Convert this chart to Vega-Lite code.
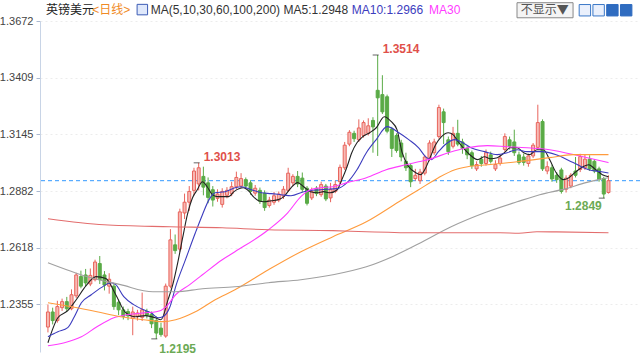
{
"$schema":"https://vega.github.io/schema/vega-lite/v6.json",
"width":600,"height":331,
"autosize":{"type":"none"},
"padding":{"left":40,"top":21,"right":0,"bottom":8},
"background":"white",
"config":{"view":{"stroke":null},"font":"Liberation Sans","text":{"font":"Liberation Sans, Noto Sans CJK SC"},
 "axisY":{"title":null,"format":".4f","labelFont":"Liberation Sans","labelFontSize":11,"labelColor":"#444","labelPadding":3,"tickSize":4,"tickColor":"#a9b8d0","domainColor":"#c8d4e6","grid":true,"gridColor":"#ececec","gridDash":[2,3]}},
"datasets":{
"one":[{}],
"k":[
{"i":0,"o":1.2250,"h":1.2355,"l":1.2225,"c":1.2320},
{"i":1,"o":1.2320,"h":1.2340,"l":1.2262,"c":1.2280},
{"i":2,"o":1.2280,"h":1.2372,"l":1.2270,"c":1.2345},
{"i":3,"o":1.2340,"h":1.2382,"l":1.2325,"c":1.2368},
{"i":4,"o":1.2368,"h":1.2390,"l":1.2320,"c":1.2335},
{"i":5,"o":1.2335,"h":1.2425,"l":1.2328,"c":1.2400},
{"i":6,"o":1.2395,"h":1.2502,"l":1.2385,"c":1.2492},
{"i":7,"o":1.2485,"h":1.2512,"l":1.2430,"c":1.2440},
{"i":8,"o":1.2492,"h":1.2520,"l":1.2440,"c":1.2455},
{"i":9,"o":1.2450,"h":1.2522,"l":1.2440,"c":1.2490},
{"i":10,"o":1.2470,"h":1.2563,"l":1.2462,"c":1.2552},
{"i":11,"o":1.2545,"h":1.2580,"l":1.2450,"c":1.2470},
{"i":12,"o":1.2492,"h":1.2510,"l":1.2420,"c":1.2445},
{"i":13,"o":1.2440,"h":1.2500,"l":1.2405,"c":1.2472},
{"i":14,"o":1.2440,"h":1.2452,"l":1.2330,"c":1.2345},
{"i":15,"o":1.2365,"h":1.2378,"l":1.2305,"c":1.2330},
{"i":16,"o":1.2330,"h":1.2345,"l":1.2285,"c":1.2300},
{"i":17,"o":1.2322,"h":1.2335,"l":1.2282,"c":1.2302},
{"i":18,"o":1.2290,"h":1.2345,"l":1.2212,"c":1.2320},
{"i":19,"o":1.2300,"h":1.2330,"l":1.2280,"c":1.2315},
{"i":20,"o":1.2295,"h":1.2410,"l":1.2278,"c":1.2330},
{"i":21,"o":1.2322,"h":1.2335,"l":1.2290,"c":1.2305},
{"i":22,"o":1.2310,"h":1.2322,"l":1.2245,"c":1.2265},
{"i":23,"o":1.2280,"h":1.2300,"l":1.2195,"c":1.2222},
{"i":24,"o":1.2245,"h":1.2270,"l":1.2205,"c":1.2215},
{"i":25,"o":1.2208,"h":1.2452,"l":1.2200,"c":1.2440},
{"i":26,"o":1.2440,"h":1.2705,"l":1.2430,"c":1.2655},
{"i":27,"o":1.2632,"h":1.2680,"l":1.2590,"c":1.2605},
{"i":28,"o":1.2612,"h":1.2800,"l":1.2600,"c":1.2785},
{"i":29,"o":1.2780,"h":1.2870,"l":1.2752,"c":1.2830},
{"i":30,"o":1.2830,"h":1.2905,"l":1.2790,"c":1.2880},
{"i":31,"o":1.2885,"h":1.2990,"l":1.2862,"c":1.2975},
{"i":32,"o":1.2915,"h":1.3013,"l":1.2885,"c":1.2990},
{"i":33,"o":1.2950,"h":1.2995,"l":1.2862,"c":1.2900},
{"i":34,"o":1.2920,"h":1.2945,"l":1.2825,"c":1.2852},
{"i":35,"o":1.2888,"h":1.2905,"l":1.2810,"c":1.2840},
{"i":36,"o":1.2848,"h":1.2890,"l":1.2832,"c":1.2868},
{"i":37,"o":1.2820,"h":1.2895,"l":1.2805,"c":1.2880},
{"i":38,"o":1.2862,"h":1.2900,"l":1.2848,"c":1.2885},
{"i":39,"o":1.2870,"h":1.2925,"l":1.2858,"c":1.2902},
{"i":40,"o":1.2902,"h":1.2972,"l":1.2890,"c":1.2945},
{"i":41,"o":1.2905,"h":1.2965,"l":1.2895,"c":1.2940},
{"i":42,"o":1.2935,"h":1.2945,"l":1.2890,"c":1.2905},
{"i":43,"o":1.2920,"h":1.2932,"l":1.2865,"c":1.2880},
{"i":44,"o":1.2872,"h":1.2910,"l":1.2860,"c":1.2895},
{"i":45,"o":1.2885,"h":1.2898,"l":1.2822,"c":1.2835},
{"i":46,"o":1.2872,"h":1.2885,"l":1.2790,"c":1.2805},
{"i":47,"o":1.2815,"h":1.2855,"l":1.2805,"c":1.2840},
{"i":48,"o":1.2830,"h":1.2878,"l":1.2818,"c":1.2860},
{"i":49,"o":1.2840,"h":1.2880,"l":1.2830,"c":1.2868},
{"i":50,"o":1.2858,"h":1.2905,"l":1.2845,"c":1.2890},
{"i":51,"o":1.2885,"h":1.2990,"l":1.2878,"c":1.2965},
{"i":52,"o":1.2920,"h":1.2960,"l":1.2905,"c":1.2950},
{"i":53,"o":1.2950,"h":1.2975,"l":1.2900,"c":1.2915},
{"i":54,"o":1.2942,"h":1.2968,"l":1.2878,"c":1.2890},
{"i":55,"o":1.2895,"h":1.2905,"l":1.2815,"c":1.2825},
{"i":56,"o":1.2850,"h":1.2898,"l":1.2840,"c":1.2880},
{"i":57,"o":1.2895,"h":1.2905,"l":1.2858,"c":1.2870},
{"i":58,"o":1.2865,"h":1.2925,"l":1.2855,"c":1.2912},
{"i":59,"o":1.2905,"h":1.2915,"l":1.2835,"c":1.2845},
{"i":60,"o":1.2850,"h":1.2920,"l":1.2830,"c":1.2890},
{"i":61,"o":1.2880,"h":1.2930,"l":1.2872,"c":1.2912},
{"i":62,"o":1.2925,"h":1.3005,"l":1.2915,"c":1.2992},
{"i":63,"o":1.2990,"h":1.3110,"l":1.2980,"c":1.3095},
{"i":64,"o":1.3100,"h":1.3165,"l":1.3090,"c":1.3155},
{"i":65,"o":1.3150,"h":1.3162,"l":1.3110,"c":1.3125},
{"i":66,"o":1.3120,"h":1.3215,"l":1.3110,"c":1.3175},
{"i":67,"o":1.3140,"h":1.3210,"l":1.3130,"c":1.3200},
{"i":68,"o":1.3150,"h":1.3220,"l":1.3140,"c":1.3185},
{"i":69,"o":1.3210,"h":1.3225,"l":1.3060,"c":1.3180},
{"i":70,"o":1.3350,"h":1.3514,"l":1.3045,"c":1.3315},
{"i":71,"o":1.3330,"h":1.3420,"l":1.3240,"c":1.3250},
{"i":72,"o":1.3320,"h":1.3330,"l":1.3150,"c":1.3160},
{"i":73,"o":1.3170,"h":1.3180,"l":1.3040,"c":1.3080},
{"i":74,"o":1.3140,"h":1.3150,"l":1.3060,"c":1.3070},
{"i":75,"o":1.3105,"h":1.3120,"l":1.3020,"c":1.3040},
{"i":76,"o":1.3020,"h":1.3060,"l":1.2975,"c":1.2990},
{"i":77,"o":1.3000,"h":1.3010,"l":1.2900,"c":1.2925},
{"i":78,"o":1.2940,"h":1.2985,"l":1.2930,"c":1.2955},
{"i":79,"o":1.2930,"h":1.2985,"l":1.2915,"c":1.2970},
{"i":80,"o":1.2965,"h":1.3050,"l":1.2955,"c":1.3040},
{"i":81,"o":1.3030,"h":1.3118,"l":1.3020,"c":1.3105},
{"i":82,"o":1.3060,"h":1.3125,"l":1.3050,"c":1.3110},
{"i":83,"o":1.3135,"h":1.3283,"l":1.3125,"c":1.3270},
{"i":84,"o":1.3250,"h":1.3265,"l":1.3100,"c":1.3200},
{"i":85,"o":1.3120,"h":1.3135,"l":1.3050,"c":1.3065},
{"i":86,"o":1.3090,"h":1.3180,"l":1.3080,"c":1.3150},
{"i":87,"o":1.3150,"h":1.3213,"l":1.3090,"c":1.3100},
{"i":88,"o":1.3110,"h":1.3125,"l":1.3055,"c":1.3080},
{"i":89,"o":1.3080,"h":1.3090,"l":1.3030,"c":1.3050},
{"i":90,"o":1.3060,"h":1.3070,"l":1.2985,"c":1.3000},
{"i":91,"o":1.2985,"h":1.3020,"l":1.2975,"c":1.3005},
{"i":92,"o":1.3030,"h":1.3045,"l":1.2995,"c":1.3010},
{"i":93,"o":1.3010,"h":1.3075,"l":1.3000,"c":1.3060},
{"i":94,"o":1.3050,"h":1.3065,"l":1.3010,"c":1.3020},
{"i":95,"o":1.2985,"h":1.3025,"l":1.2975,"c":1.3005},
{"i":96,"o":1.3010,"h":1.3050,"l":1.3000,"c":1.3035},
{"i":97,"o":1.3075,"h":1.3150,"l":1.3065,"c":1.3135},
{"i":98,"o":1.3120,"h":1.3135,"l":1.3075,"c":1.3090},
{"i":99,"o":1.3110,"h":1.3167,"l":1.3045,"c":1.3060},
{"i":100,"o":1.3050,"h":1.3065,"l":1.3005,"c":1.3015},
{"i":101,"o":1.3040,"h":1.3055,"l":1.3000,"c":1.3015},
{"i":102,"o":1.3010,"h":1.3055,"l":1.2995,"c":1.3045},
{"i":103,"o":1.3045,"h":1.3105,"l":1.3035,"c":1.3095},
{"i":104,"o":1.3085,"h":1.3283,"l":1.3075,"c":1.3200},
{"i":105,"o":1.3205,"h":1.3215,"l":1.2975,"c":1.2985},
{"i":106,"o":1.2975,"h":1.3020,"l":1.2960,"c":1.2995},
{"i":107,"o":1.2990,"h":1.3005,"l":1.2925,"c":1.2938},
{"i":108,"o":1.2955,"h":1.2970,"l":1.2920,"c":1.2935},
{"i":109,"o":1.2980,"h":1.2990,"l":1.2870,"c":1.2880},
{"i":110,"o":1.2890,"h":1.2955,"l":1.2875,"c":1.2942},
{"i":111,"o":1.2905,"h":1.2965,"l":1.2895,"c":1.2955},
{"i":112,"o":1.2975,"h":1.3040,"l":1.2945,"c":1.2955},
{"i":113,"o":1.2982,"h":1.3055,"l":1.2970,"c":1.3042},
{"i":114,"o":1.2990,"h":1.3050,"l":1.2980,"c":1.3030},
{"i":115,"o":1.3030,"h":1.3048,"l":1.2975,"c":1.2985},
{"i":116,"o":1.3020,"h":1.3030,"l":1.2965,"c":1.2975},
{"i":117,"o":1.2985,"h":1.2995,"l":1.2925,"c":1.2935},
{"i":118,"o":1.2940,"h":1.2948,"l":1.2849,"c":1.2868},
{"i":119,"o":1.2875,"h":1.2955,"l":1.2870,"c":1.2930}
],
"ma":[
{"ma":"MA5","i":0,"v":1.2177},{"ma":"MA5","i":2.1,"v":1.2293},{"ma":"MA5","i":4.2,"v":1.2326},{"ma":"MA5","i":6,"v":1.2377},{"ma":"MA5","i":8.1,"v":1.2442},{"ma":"MA5","i":10.2,"v":1.2484},{"ma":"MA5","i":12.3,"v":1.2475},{"ma":"MA5","i":14.4,"v":1.2400},{"ma":"MA5","i":16.5,"v":1.2317},{"ma":"MA5","i":18.6,"v":1.2298},{"ma":"MA5","i":20.7,"v":1.2303},{"ma":"MA5","i":22.8,"v":1.2293},{"ma":"MA5","i":24,"v":1.2284},{"ma":"MA5","i":25.5,"v":1.2377},{"ma":"MA5","i":26.5,"v":1.2447},{"ma":"MA5","i":27.6,"v":1.2554},{"ma":"MA5","i":28.6,"v":1.2665},{"ma":"MA5","i":29.6,"v":1.2772},{"ma":"MA5","i":30.7,"v":1.2851},{"ma":"MA5","i":31.7,"v":1.2888},{"ma":"MA5","i":32.8,"v":1.2925},{"ma":"MA5","i":33.8,"v":1.2902},{"ma":"MA5","i":34.9,"v":1.2865},{"ma":"MA5","i":35.9,"v":1.2856},{"ma":"MA5","i":38.4,"v":1.2856},{"ma":"MA5","i":39.5,"v":1.2879},{"ma":"MA5","i":41.5,"v":1.2897},{"ma":"MA5","i":42.6,"v":1.2883},{"ma":"MA5","i":43.6,"v":1.2856},{"ma":"MA5","i":44.7,"v":1.2837},{"ma":"MA5","i":45.9,"v":1.2832},{"ma":"MA5","i":47.4,"v":1.2837},{"ma":"MA5","i":48.9,"v":1.2842},{"ma":"MA5","i":50.1,"v":1.2856},{"ma":"MA5","i":51.6,"v":1.2897},{"ma":"MA5","i":53,"v":1.2921},{"ma":"MA5","i":54.3,"v":1.2902},{"ma":"MA5","i":55.7,"v":1.2879},{"ma":"MA5","i":57.2,"v":1.2874},{"ma":"MA5","i":58.5,"v":1.2879},{"ma":"MA5","i":59.9,"v":1.2874},{"ma":"MA5","i":61.4,"v":1.2888},{"ma":"MA5","i":62.4,"v":1.2935},{"ma":"MA5","i":63.5,"v":1.2995},{"ma":"MA5","i":64.5,"v":1.3060},{"ma":"MA5","i":65.6,"v":1.3106},{"ma":"MA5","i":66.8,"v":1.3134},{"ma":"MA5","i":68.3,"v":1.3153},{"ma":"MA5","i":69.7,"v":1.3176},{"ma":"MA5","i":71.4,"v":1.3227},{"ma":"MA5","i":72.9,"v":1.3204},{"ma":"MA5","i":74.1,"v":1.3167},{"ma":"MA5","i":75.2,"v":1.3060},{"ma":"MA5","i":76.6,"v":1.2995},{"ma":"MA5","i":78.1,"v":1.2967},{"ma":"MA5","i":79.1,"v":1.2958},{"ma":"MA5","i":80.2,"v":1.2990},{"ma":"MA5","i":81.2,"v":1.3041},{"ma":"MA5","i":82.3,"v":1.3097},{"ma":"MA5","i":83.5,"v":1.3134},{"ma":"MA5","i":85,"v":1.3153},{"ma":"MA5","i":86,"v":1.3144},{"ma":"MA5","i":87.1,"v":1.3111},{"ma":"MA5","i":88.5,"v":1.3074},{"ma":"MA5","i":89.8,"v":1.3046},{"ma":"MA5","i":91.2,"v":1.3028},{"ma":"MA5","i":92.7,"v":1.3041},{"ma":"MA5","i":93.9,"v":1.3032},{"ma":"MA5","i":95.4,"v":1.3037},{"ma":"MA5","i":96.9,"v":1.3060},{"ma":"MA5","i":98.1,"v":1.3083},{"ma":"MA5","i":99.6,"v":1.3083},{"ma":"MA5","i":101,"v":1.3060},{"ma":"MA5","i":102.3,"v":1.3051},{"ma":"MA5","i":103.8,"v":1.3074},{"ma":"MA5","i":105.2,"v":1.3074},{"ma":"MA5","i":106.5,"v":1.3028},{"ma":"MA5","i":107.9,"v":1.2967},{"ma":"MA5","i":109.4,"v":1.2935},{"ma":"MA5","i":110.6,"v":1.2944},{"ma":"MA5","i":112.1,"v":1.2972},{"ma":"MA5","i":113.6,"v":1.2995},{"ma":"MA5","i":114.8,"v":1.3004},{"ma":"MA5","i":116.3,"v":1.2981},{"ma":"MA5","i":117.7,"v":1.2958},{"ma":"MA5","i":119,"v":1.2948},
{"ma":"MA10","i":0,"v":1.2205},{"ma":"MA10","i":2.1,"v":1.2228},{"ma":"MA10","i":4.2,"v":1.2247},{"ma":"MA10","i":5.6,"v":1.2298},{"ma":"MA10","i":7.1,"v":1.2363},{"ma":"MA10","i":9.2,"v":1.2400},{"ma":"MA10","i":11.3,"v":1.2433},{"ma":"MA10","i":13.4,"v":1.2456},{"ma":"MA10","i":14.4,"v":1.2447},{"ma":"MA10","i":16.1,"v":1.2391},{"ma":"MA10","i":18.2,"v":1.2354},{"ma":"MA10","i":20.3,"v":1.2330},{"ma":"MA10","i":21.9,"v":1.2316},{"ma":"MA10","i":23.4,"v":1.2293},{"ma":"MA10","i":24.4,"v":1.2298},{"ma":"MA10","i":25.9,"v":1.2344},{"ma":"MA10","i":27.1,"v":1.2437},{"ma":"MA10","i":29.2,"v":1.2563},{"ma":"MA10","i":31.3,"v":1.2688},{"ma":"MA10","i":32.8,"v":1.2772},{"ma":"MA10","i":34.2,"v":1.2842},{"ma":"MA10","i":35.5,"v":1.2874},{"ma":"MA10","i":37.6,"v":1.2879},{"ma":"MA10","i":39.7,"v":1.2897},{"ma":"MA10","i":41.1,"v":1.2902},{"ma":"MA10","i":43.2,"v":1.2888},{"ma":"MA10","i":45.3,"v":1.2874},{"ma":"MA10","i":47.4,"v":1.2870},{"ma":"MA10","i":49.5,"v":1.2865},{"ma":"MA10","i":51.6,"v":1.2860},{"ma":"MA10","i":54.3,"v":1.2879},{"ma":"MA10","i":57.8,"v":1.2888},{"ma":"MA10","i":61.4,"v":1.2893},{"ma":"MA10","i":63.5,"v":1.2921},{"ma":"MA10","i":65.6,"v":1.2981},{"ma":"MA10","i":67.6,"v":1.3060},{"ma":"MA10","i":69.7,"v":1.3121},{"ma":"MA10","i":72,"v":1.3181},{"ma":"MA10","i":74.5,"v":1.3153},{"ma":"MA10","i":76.6,"v":1.3121},{"ma":"MA10","i":78.7,"v":1.3083},{"ma":"MA10","i":80.2,"v":1.3041},{"ma":"MA10","i":81.4,"v":1.3028},{"ma":"MA10","i":82.9,"v":1.3065},{"ma":"MA10","i":84.3,"v":1.3097},{"ma":"MA10","i":86.4,"v":1.3121},{"ma":"MA10","i":87.7,"v":1.3111},{"ma":"MA10","i":89.8,"v":1.3083},{"ma":"MA10","i":92.7,"v":1.3065},{"ma":"MA10","i":95.4,"v":1.3051},{"ma":"MA10","i":97.5,"v":1.3060},{"ma":"MA10","i":99.6,"v":1.3074},{"ma":"MA10","i":101.7,"v":1.3065},{"ma":"MA10","i":104.8,"v":1.3065},{"ma":"MA10","i":107.9,"v":1.3051},{"ma":"MA10","i":111.5,"v":1.3014},{"ma":"MA10","i":114.8,"v":1.2981},{"ma":"MA10","i":117.3,"v":1.2972},{"ma":"MA10","i":119,"v":1.2966},
{"ma":"MA30","i":0,"v":1.2163},{"ma":"MA30","i":3.5,"v":1.2177},{"ma":"MA30","i":7.1,"v":1.2205},{"ma":"MA30","i":10.4,"v":1.2251},{"ma":"MA30","i":14,"v":1.2293},{"ma":"MA30","i":16.7,"v":1.2307},{"ma":"MA30","i":20.3,"v":1.2316},{"ma":"MA30","i":23,"v":1.2321},{"ma":"MA30","i":25.1,"v":1.2344},{"ma":"MA30","i":27.1,"v":1.2400},{"ma":"MA30","i":30.1,"v":1.2447},{"ma":"MA30","i":32.8,"v":1.2493},{"ma":"MA30","i":37,"v":1.2563},{"ma":"MA30","i":39.7,"v":1.2600},{"ma":"MA30","i":46.8,"v":1.2702},{"ma":"MA30","i":50.9,"v":1.2781},{"ma":"MA30","i":53.7,"v":1.2856},{"ma":"MA30","i":55.7,"v":1.2888},{"ma":"MA30","i":57.8,"v":1.2897},{"ma":"MA30","i":60.5,"v":1.2902},{"ma":"MA30","i":63.5,"v":1.2921},{"ma":"MA30","i":67.6,"v":1.2944},{"ma":"MA30","i":71.8,"v":1.2981},{"ma":"MA30","i":76,"v":1.3004},{"ma":"MA30","i":78.7,"v":1.3018},{"ma":"MA30","i":80.8,"v":1.3028},{"ma":"MA30","i":85,"v":1.3060},{"ma":"MA30","i":89.1,"v":1.3083},{"ma":"MA30","i":93.3,"v":1.3093},{"ma":"MA30","i":97.5,"v":1.3088},{"ma":"MA30","i":101.7,"v":1.3083},{"ma":"MA30","i":106.5,"v":1.3074},{"ma":"MA30","i":113.6,"v":1.3041},{"ma":"MA30","i":119,"v":1.3014},
{"ma":"MA60","i":0,"v":1.2363},{"ma":"MA60","i":5,"v":1.2344},{"ma":"MA60","i":10.4,"v":1.2321},{"ma":"MA60","i":15.4,"v":1.2298},{"ma":"MA60","i":20.3,"v":1.2284},{"ma":"MA60","i":24.4,"v":1.2275},{"ma":"MA60","i":27.1,"v":1.2284},{"ma":"MA60","i":31.3,"v":1.2321},{"ma":"MA60","i":35.5,"v":1.2377},{"ma":"MA60","i":39.7,"v":1.2423},{"ma":"MA60","i":46.8,"v":1.2516},{"ma":"MA60","i":53.7,"v":1.2600},{"ma":"MA60","i":60.5,"v":1.2670},{"ma":"MA60","i":67.6,"v":1.2739},{"ma":"MA60","i":74.5,"v":1.2832},{"ma":"MA60","i":78.7,"v":1.2888},{"ma":"MA60","i":82.9,"v":1.2944},{"ma":"MA60","i":86.4,"v":1.2981},{"ma":"MA60","i":89.1,"v":1.2995},{"ma":"MA60","i":93.3,"v":1.3004},{"ma":"MA60","i":99.6,"v":1.3018},{"ma":"MA60","i":106.5,"v":1.3037},{"ma":"MA60","i":111.5,"v":1.3051},{"ma":"MA60","i":119,"v":1.3051},
{"ma":"MA100","i":0,"v":1.2549},{"ma":"MA100","i":8.4,"v":1.2484},{"ma":"MA100","i":15.4,"v":1.2447},{"ma":"MA100","i":22.3,"v":1.2414},{"ma":"MA100","i":27.1,"v":1.2414},{"ma":"MA100","i":32.8,"v":1.2428},{"ma":"MA100","i":39.7,"v":1.2437},{"ma":"MA100","i":46.8,"v":1.2456},{"ma":"MA100","i":53.7,"v":1.2470},{"ma":"MA100","i":60.5,"v":1.2493},{"ma":"MA100","i":67.6,"v":1.2530},{"ma":"MA100","i":73.1,"v":1.2577},{"ma":"MA100","i":78.7,"v":1.2637},{"ma":"MA100","i":85.6,"v":1.2716},{"ma":"MA100","i":92.7,"v":1.2781},{"ma":"MA100","i":99.6,"v":1.2832},{"ma":"MA100","i":104.4,"v":1.2865},{"ma":"MA100","i":110,"v":1.2893},{"ma":"MA100","i":114.2,"v":1.2921},{"ma":"MA100","i":116.9,"v":1.2935},{"ma":"MA100","i":119,"v":1.2944},
{"ma":"MA200","i":0,"v":1.2753},{"ma":"MA200","i":11.9,"v":1.2725},{"ma":"MA200","i":25.9,"v":1.2716},{"ma":"MA200","i":37,"v":1.2711},{"ma":"MA200","i":46.8,"v":1.2702},{"ma":"MA200","i":60.5,"v":1.2698},{"ma":"MA200","i":67.6,"v":1.2693},{"ma":"MA200","i":78.7,"v":1.2688},{"ma":"MA200","i":96,"v":1.2688},{"ma":"MA200","i":100,"v":1.2686},{"ma":"MA200","i":103.8,"v":1.2693},{"ma":"MA200","i":108,"v":1.2692},{"ma":"MA200","i":119,"v":1.2688}
],
"ann":[
{"i":32,"v":1.3013,"label":"1.3013","kind":"hi"},
{"i":70,"v":1.3514,"label":"1.3514","kind":"hi"},
{"i":23,"v":1.2195,"label":"1.2195","kind":"lo"},
{"i":118,"v":1.2849,"label":"1.2849","kind":"lo2"}
]
},
"layer":[
{"data":{"name":"one"},"mark":{"type":"rule","color":"#3399ff","strokeDash":[4,3],"strokeWidth":1},
 "encoding":{"y":{"datum":1.2930,"type":"quantitative","scale":{"domain":[1.2134,1.3672],"nice":false,"zero":false},
  "axis":{"values":[1.2355,1.2618,1.2882,1.3145,1.3409,1.3672]}}}},
{"data":{"name":"k"},"mark":{"type":"rule","strokeWidth":1},
 "encoding":{"x":{"field":"i","type":"quantitative","scale":{"domain":[-0.626,124.63],"nice":false,"zero":false},"axis":null},
  "y":{"field":"l","type":"quantitative","scale":{"domain":[1.2134,1.3672],"nice":false,"zero":false},"axis":{"values":[1.2355,1.2618,1.2882,1.3145,1.3409,1.3672]}},
  "y2":{"field":"h"},
  "color":{"condition":{"test":"datum.c >= datum.o","value":"#e8645c"},"value":"#5aab47"}}},
{"data":{"name":"k"},"mark":{"type":"bar","width":3,"strokeWidth":1},
 "encoding":{"x":{"field":"i","type":"quantitative","scale":{"domain":[-0.626,124.63],"nice":false,"zero":false},"axis":null},
  "y":{"field":"o","type":"quantitative","scale":{"domain":[1.2134,1.3672],"nice":false,"zero":false},"axis":{"values":[1.2355,1.2618,1.2882,1.3145,1.3409,1.3672]}},
  "y2":{"field":"c"},
  "fill":{"condition":{"test":"datum.c >= datum.o","value":"#f7b9b4"},"value":"#5aab47"},
  "stroke":{"condition":{"test":"datum.c >= datum.o","value":"#e8645c"},"value":"#5aab47"}}},
{"data":{"name":"ma"},"mark":{"type":"line","strokeWidth":1.1,"interpolate":"monotone"},
 "encoding":{"x":{"field":"i","type":"quantitative","scale":{"domain":[-0.626,124.63],"nice":false,"zero":false},"axis":null},
  "y":{"field":"v","type":"quantitative","scale":{"domain":[1.2134,1.3672],"nice":false,"zero":false},"axis":{"values":[1.2355,1.2618,1.2882,1.3145,1.3409,1.3672]}},
  "color":{"field":"ma","type":"nominal","scale":{"domain":["MA200","MA100","MA60","MA30","MA10","MA5"],"range":["#e36d6d","#a0a0a0","#ff9b3d","#ff3cff","#3c3cbe","#222222"]},"legend":null}}},
{"data":{"name":"ann"},"mark":{"type":"tick","orient":"horizontal","color":"#222","size":6,"thickness":1,"xOffset":-2},
 "encoding":{"x":{"field":"i","type":"quantitative","scale":{"domain":[-0.626,124.63],"nice":false,"zero":false},"axis":null},
  "y":{"field":"v","type":"quantitative","scale":{"domain":[1.2134,1.3672],"nice":false,"zero":false},"axis":{"values":[1.2355,1.2618,1.2882,1.3145,1.3409,1.3672]}}}},
{"data":{"name":"ann"},"transform":[{"filter":"datum.kind == 'hi'"}],
 "mark":{"type":"text","align":"left","baseline":"middle","dx":5,"dy":-6,"fontSize":12,"fontWeight":"bold","color":"#e0504a","font":"Liberation Sans"},
 "encoding":{"x":{"field":"i","type":"quantitative","scale":{"domain":[-0.626,124.63],"nice":false,"zero":false},"axis":null},
  "y":{"field":"v","type":"quantitative","scale":{"domain":[1.2134,1.3672],"nice":false,"zero":false},"axis":{"values":[1.2355,1.2618,1.2882,1.3145,1.3409,1.3672]}},
  "text":{"field":"label"}}},
{"data":{"name":"ann"},"transform":[{"filter":"datum.kind == 'lo'"}],
 "mark":{"type":"text","align":"left","baseline":"middle","dx":3,"dy":10,"fontSize":12,"fontWeight":"bold","color":"#6caa55","font":"Liberation Sans"},
 "encoding":{"x":{"field":"i","type":"quantitative","scale":{"domain":[-0.626,124.63],"nice":false,"zero":false},"axis":null},
  "y":{"field":"v","type":"quantitative","scale":{"domain":[1.2134,1.3672],"nice":false,"zero":false},"axis":{"values":[1.2355,1.2618,1.2882,1.3145,1.3409,1.3672]}},
  "text":{"field":"label"}}},
{"data":{"name":"ann"},"transform":[{"filter":"datum.kind == 'lo2'"}],
 "mark":{"type":"text","align":"right","baseline":"middle","dx":-2,"dy":8,"fontSize":12,"fontWeight":"bold","color":"#6caa55","font":"Liberation Sans"},
 "encoding":{"x":{"field":"i","type":"quantitative","scale":{"domain":[-0.626,124.63],"nice":false,"zero":false},"axis":null},
  "y":{"field":"v","type":"quantitative","scale":{"domain":[1.2134,1.3672],"nice":false,"zero":false},"axis":{"values":[1.2355,1.2618,1.2882,1.3145,1.3409,1.3672]}},
  "text":{"field":"label"}}},
{"data":{"name":"one"},"mark":{"type":"text","align":"left","baseline":"middle","fontSize":12,"color":"#222","font":"Noto Sans CJK SC"},
 "encoding":{"x":{"datum":-0.42,"type":"quantitative","scale":{"domain":[-0.626,124.63],"nice":false,"zero":false},"axis":null},
  "y":{"datum":1.3725,"type":"quantitative","scale":{"domain":[1.2134,1.3672],"nice":false,"zero":false},"axis":{"values":[1.2355,1.2618,1.2882,1.3145,1.3409,1.3672]}},
  "text":{"value":"英镑美元"}}},
{"data":{"name":"one"},"mark":{"type":"text","align":"left","baseline":"middle","fontSize":12,"color":"#f08a24","font":"Liberation Sans, Noto Sans CJK SC"},
 "encoding":{"x":{"datum":9.39,"type":"quantitative","scale":{"domain":[-0.626,124.63],"nice":false,"zero":false},"axis":null},
  "y":{"datum":1.3725,"type":"quantitative","scale":{"domain":[1.2134,1.3672],"nice":false,"zero":false},"axis":{"values":[1.2355,1.2618,1.2882,1.3145,1.3409,1.3672]}},
  "text":{"value":"<日线>"}}},
{"data":{"name":"one"},"mark":{"type":"point","shape":"square","size":110,"filled":true,"color":"#dfe8fb","stroke":"#3b5bb5","strokeWidth":1,"opacity":1},
 "encoding":{"x":{"datum":20.04,"type":"quantitative","scale":{"domain":[-0.626,124.63],"nice":false,"zero":false},"axis":null},
  "y":{"datum":1.3725,"type":"quantitative","scale":{"domain":[1.2134,1.3672],"nice":false,"zero":false},"axis":{"values":[1.2355,1.2618,1.2882,1.3145,1.3409,1.3672]}}}},
{"data":{"name":"one"},"mark":{"type":"text","align":"left","baseline":"middle","fontSize":12,"color":"#333","font":"Liberation Sans"},
 "encoding":{"x":{"datum":21.8,"type":"quantitative","scale":{"domain":[-0.626,124.63],"nice":false,"zero":false},"axis":null},
  "y":{"datum":1.3725,"type":"quantitative","scale":{"domain":[1.2134,1.3672],"nice":false,"zero":false},"axis":{"values":[1.2355,1.2618,1.2882,1.3145,1.3409,1.3672]}},
  "text":{"value":"MA(5,10,30,60,100,200)"}}},
{"data":{"name":"one"},"mark":{"type":"text","align":"left","baseline":"middle","fontSize":12,"color":"#333","font":"Liberation Sans"},
 "encoding":{"x":{"datum":50.0,"type":"quantitative","scale":{"domain":[-0.626,124.63],"nice":false,"zero":false},"axis":null},
  "y":{"datum":1.3725,"type":"quantitative","scale":{"domain":[1.2134,1.3672],"nice":false,"zero":false},"axis":{"values":[1.2355,1.2618,1.2882,1.3145,1.3409,1.3672]}},
  "text":{"value":"MA5:1.2948"}}},
{"data":{"name":"one"},"mark":{"type":"text","align":"left","baseline":"middle","fontSize":12,"color":"#3c3cbe","font":"Liberation Sans"},
 "encoding":{"x":{"datum":64.5,"type":"quantitative","scale":{"domain":[-0.626,124.63],"nice":false,"zero":false},"axis":null},
  "y":{"datum":1.3725,"type":"quantitative","scale":{"domain":[1.2134,1.3672],"nice":false,"zero":false},"axis":{"values":[1.2355,1.2618,1.2882,1.3145,1.3409,1.3672]}},
  "text":{"value":"MA10:1.2966"}}},
{"data":{"name":"one"},"mark":{"type":"text","align":"left","baseline":"middle","fontSize":12,"color":"#ff3cff","font":"Liberation Sans"},
 "encoding":{"x":{"datum":80.9,"type":"quantitative","scale":{"domain":[-0.626,124.63],"nice":false,"zero":false},"axis":null},
  "y":{"datum":1.3725,"type":"quantitative","scale":{"domain":[1.2134,1.3672],"nice":false,"zero":false},"axis":{"values":[1.2355,1.2618,1.2882,1.3145,1.3409,1.3672]}},
  "text":{"value":"MA30"}}},
{"data":{"name":"one"},"mark":{"type":"rect","fill":"#f4f4f4","stroke":"#888","strokeWidth":1},
 "encoding":{"x":{"datum":99.58,"type":"quantitative","scale":{"domain":[-0.626,124.63],"nice":false,"zero":false},"axis":null},
  "x2":{"datum":111.48},
  "y":{"datum":1.3757,"type":"quantitative","scale":{"domain":[1.2134,1.3672],"nice":false,"zero":false},"axis":{"values":[1.2355,1.2618,1.2882,1.3145,1.3409,1.3672]}},
  "y2":{"datum":1.3687}}},
{"data":{"name":"one"},"mark":{"type":"text","align":"left","baseline":"middle","fontSize":12,"color":"#555","font":"Noto Sans CJK SC"},
 "encoding":{"x":{"datum":100.4,"type":"quantitative","scale":{"domain":[-0.626,124.63],"nice":false,"zero":false},"axis":null},
  "y":{"datum":1.3723,"type":"quantitative","scale":{"domain":[1.2134,1.3672],"nice":false,"zero":false},"axis":{"values":[1.2355,1.2618,1.2882,1.3145,1.3409,1.3672]}},
  "text":{"value":"不显示▼"}}},
{"data":{"name":"one"},"mark":{"type":"point","shape":"square","size":130,"filled":true,"color":"#eaf0fc","stroke":"#3a78c8","strokeWidth":1,"opacity":1},
 "encoding":{"x":{"datum":113.99,"type":"quantitative","scale":{"domain":[-0.626,124.63],"nice":false,"zero":false},"axis":null},
  "y":{"datum":1.3722,"type":"quantitative","scale":{"domain":[1.2134,1.3672],"nice":false,"zero":false},"axis":{"values":[1.2355,1.2618,1.2882,1.3145,1.3409,1.3672]}}}},
{"data":{"name":"one"},"mark":{"type":"point","shape":"square","size":130,"filled":true,"color":"#eaf0fc","stroke":"#3a78c8","strokeWidth":1,"opacity":1},
 "encoding":{"x":{"datum":116.91,"type":"quantitative","scale":{"domain":[-0.626,124.63],"nice":false,"zero":false},"axis":null},
  "y":{"datum":1.3722,"type":"quantitative","scale":{"domain":[1.2134,1.3672],"nice":false,"zero":false},"axis":{"values":[1.2355,1.2618,1.2882,1.3145,1.3409,1.3672]}}}},
{"data":{"name":"one"},"mark":{"type":"point","shape":"square","size":130,"filled":true,"color":"#2f6cc0","stroke":"#2f6cc0","strokeWidth":1,"opacity":1},
 "encoding":{"x":{"datum":119.83,"type":"quantitative","scale":{"domain":[-0.626,124.63],"nice":false,"zero":false},"axis":null},
  "y":{"datum":1.3722,"type":"quantitative","scale":{"domain":[1.2134,1.3672],"nice":false,"zero":false},"axis":{"values":[1.2355,1.2618,1.2882,1.3145,1.3409,1.3672]}}}},
{"data":{"name":"one"},"mark":{"type":"point","shape":"square","size":130,"filled":true,"color":"#2f6cc0","stroke":"#2f6cc0","strokeWidth":1,"opacity":1},
 "encoding":{"x":{"datum":122.76,"type":"quantitative","scale":{"domain":[-0.626,124.63],"nice":false,"zero":false},"axis":null},
  "y":{"datum":1.3722,"type":"quantitative","scale":{"domain":[1.2134,1.3672],"nice":false,"zero":false},"axis":{"values":[1.2355,1.2618,1.2882,1.3145,1.3409,1.3672]}}}}
]
}
